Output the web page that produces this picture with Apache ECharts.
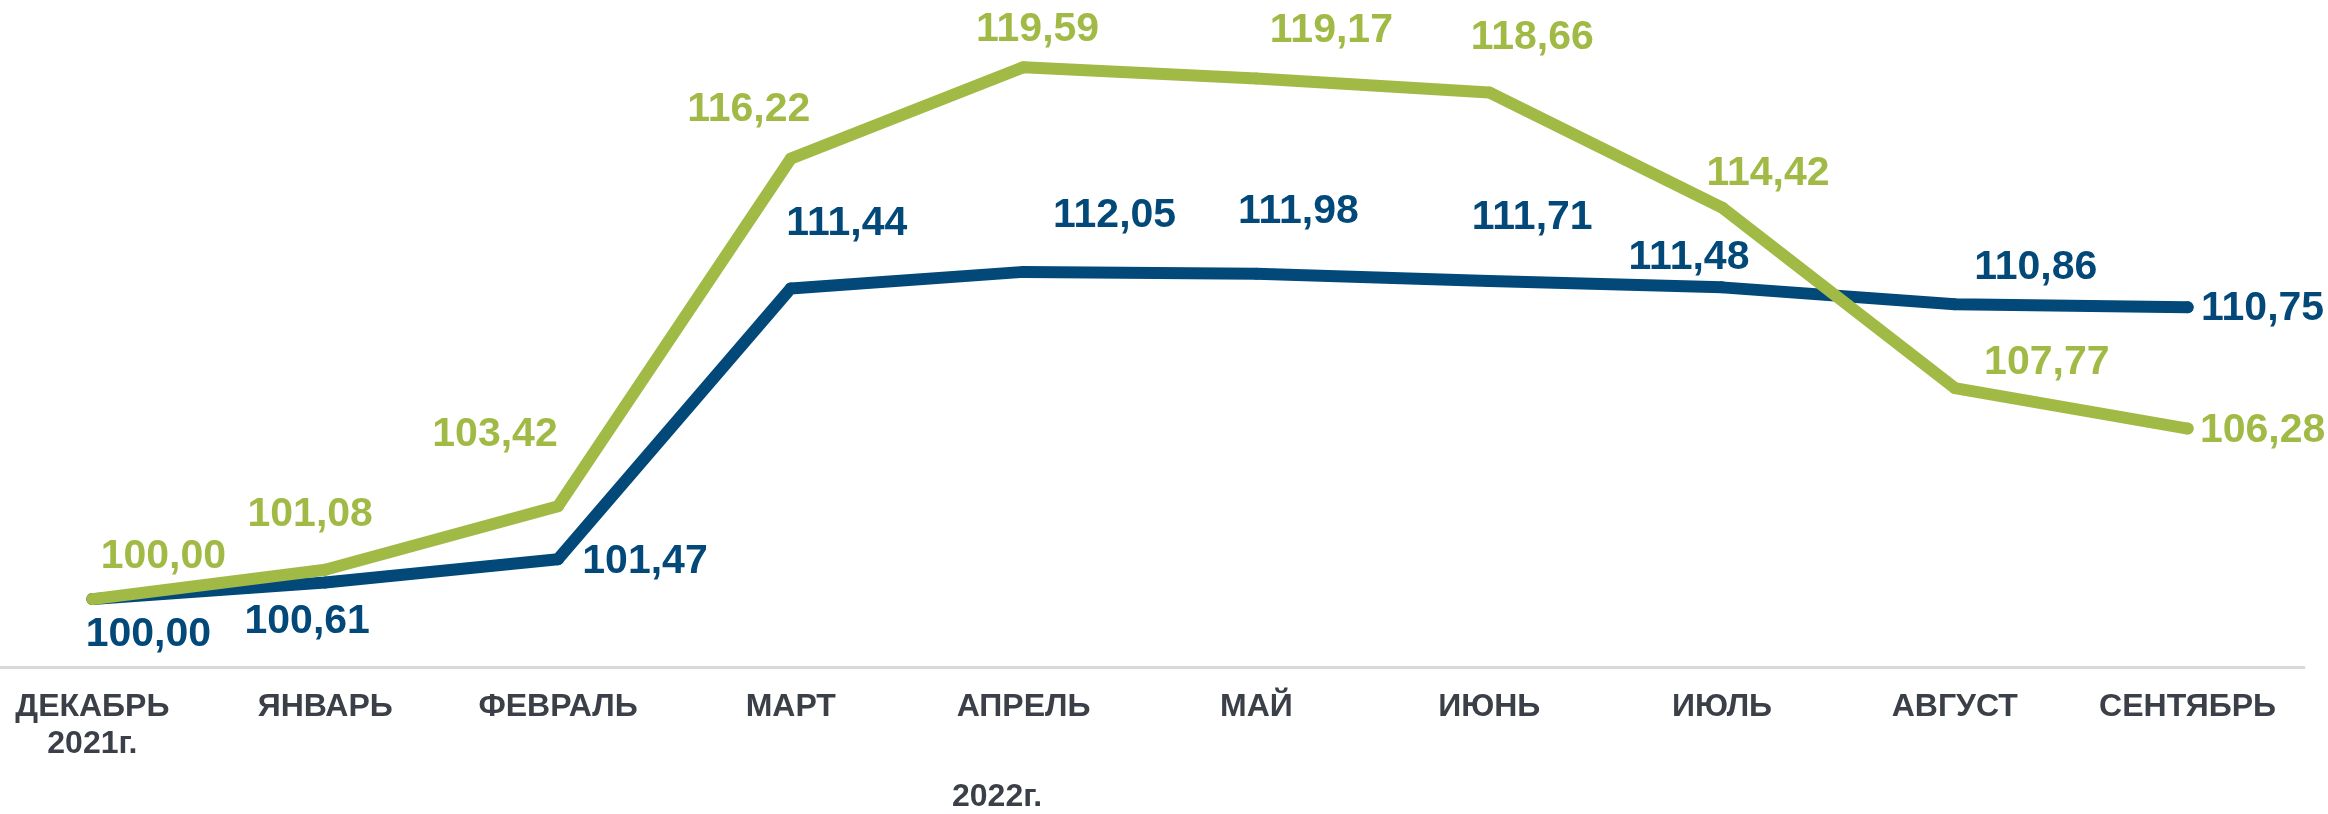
<!DOCTYPE html>
<html>
<head>
<meta charset="utf-8">
<script src="https://cdn.jsdelivr.net/npm/echarts@6/dist/echarts.min.js"></script>
<style>
html,body{margin:0;padding:0;background:#fff;}
#chart{width:2328px;height:814px;}
</style>
</head>
<body>
<div id="chart"></div>
<script>
// ---- data ----
const categories = ['ДЕКАБРЬ\n2021г.', 'ЯНВАРЬ', 'ФЕВРАЛЬ', 'МАРТ', 'АПРЕЛЬ', 'МАЙ', 'ИЮНЬ', 'ИЮЛЬ', 'АВГУСТ', 'СЕНТЯБРЬ'];
const blueValues = [100.00, 100.61, 101.47, 111.44, 112.05, 111.98, 111.71, 111.48, 110.86, 110.75];
const greenValues = [100.00, 101.08, 103.42, 116.22, 119.59, 119.17, 118.66, 114.42, 107.77, 106.28];
const yearLabel = '2022г.';

// ---- layout (label offsets in px, relative to point) ----
const blueOffsets = [[56,36],[-18,39],[87,2],[56,-65],[91,-56],[42,-62],[43,-63],[-33,-30],[81,-37],[75,1]];
const greenOffsets = [[71,-42],[-15,-55],[-63,-72],[-42,-49],[14,-37],[75,-48],[43,-55],[46,-34],[92,-25],[75,2]];

const BLUE = '#02497A';
const GREEN = '#A1BA46';
const FONT = '"Liberation Sans", Arial, sans-serif';

function fmt(v){ return v.toFixed(2).replace('.', ','); }

function buildData(values, offsets, color){
  return values.map((v, i) => ({
    value: v,
    label: {
      show: true,
      position: 'inside',
      offset: offsets[i],
      formatter: () => fmt(v),
      color: color,
      fontFamily: FONT,
      fontWeight: 'bold',
      fontSize: 41
    }
  }));
}

const chart = echarts.init(document.getElementById('chart'), null, {renderer: 'canvas'});
chart.setOption({
  animation: false,
  backgroundColor: '#ffffff',
  grid: { left: -24, right: 24, top: 56, bottom: 147, containLabel: false, outerBoundsMode: 'none' },
  xAxis: {
    type: 'category',
    data: categories,
    boundaryGap: true,
    axisLine: { show: true, lineStyle: { color: '#D9D9D9', width: 3 } },
    axisTick: { show: false },
    axisLabel: {
      interval: 0,
      color: '#3B3F47',
      fontFamily: FONT,
      fontWeight: 'bold',
      fontSize: 32,
      lineHeight: 37,
      margin: 22,
      hideOverlap: false
    },
    splitLine: { show: false }
  },
  yAxis: {
    type: 'value',
    min: 97.5,
    max: 120,
    show: false,
    splitLine: { show: false }
  },
  series: [
    {
      type: 'line',
      data: buildData(blueValues, blueOffsets, BLUE),
      symbol: 'circle',
      symbolSize: 12,
      showSymbol: true,
      itemStyle: { color: BLUE },
      lineStyle: { color: BLUE, width: 12, cap: 'round', join: 'round' },
      z: 2
    },
    {
      type: 'line',
      data: buildData(greenValues, greenOffsets, GREEN),
      symbol: 'circle',
      symbolSize: 12,
      showSymbol: true,
      itemStyle: { color: GREEN },
      lineStyle: { color: GREEN, width: 12, cap: 'round', join: 'round' },
      z: 3
    }
  ],
  graphic: [
    {
      type: 'text',
      left: 952,
      top: 781,
      style: {
        text: yearLabel,
        fill: '#3B3F47',
        font: 'bold 32px ' + FONT
      }
    }
  ]
});
</script>
</body>
</html>
